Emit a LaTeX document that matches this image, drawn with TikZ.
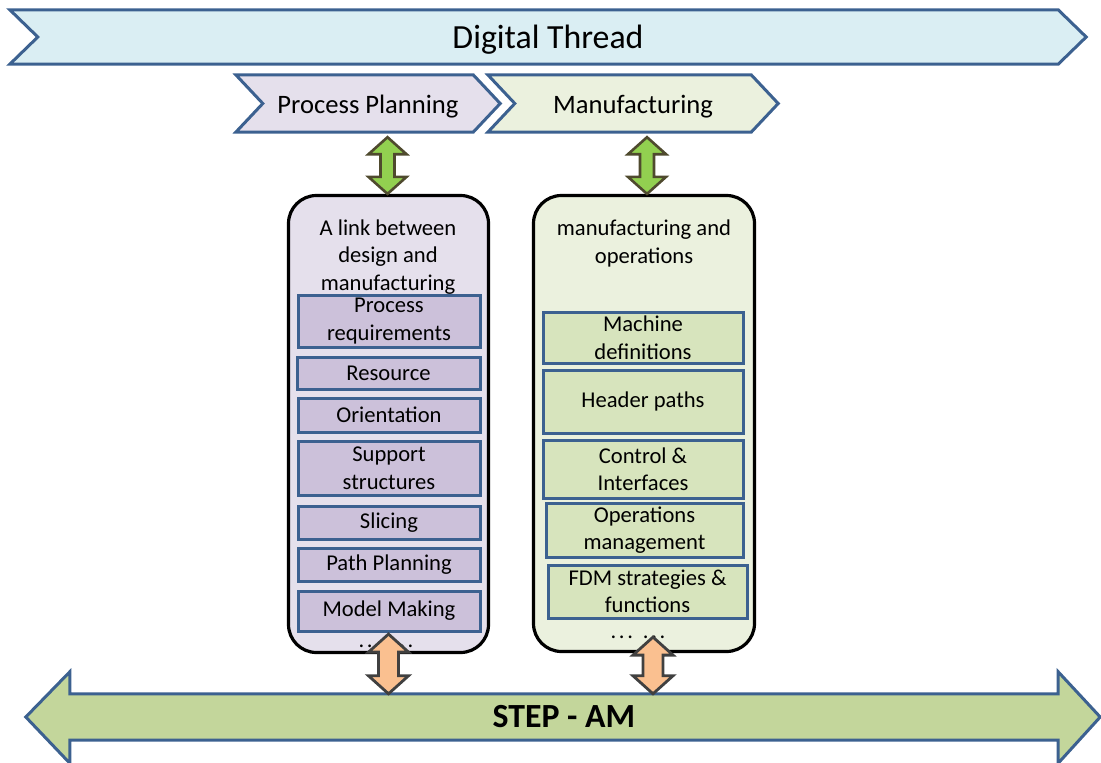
\documentclass[tikz,border=0pt]{standalone}
\usepackage{fontspec}
\setmainfont{Carlito}
\usetikzlibrary{calc,backgrounds}
\definecolor{edgeblue}{HTML}{3C6190}
\definecolor{dtfill}{HTML}{DAEEF3}
\definecolor{ppfill}{HTML}{E5E0EC}
\definecolor{ppinner}{HTML}{CCC1DA}
\definecolor{mffill}{HTML}{EBF1DE}
\definecolor{mfinner}{HTML}{D7E4BD}
\definecolor{greenarrow}{HTML}{92D050}
\definecolor{greenedge}{HTML}{4F4A2E}
\definecolor{orangearrow}{HTML}{FAC090}
\definecolor{orangeedge}{HTML}{404040}
\definecolor{stepfill}{HTML}{C3D69B}
\newcommand{\diagbody}{\fontsize{22.6}{27.5}\selectfont}
\newcommand{\diagchev}{\fontsize{26.6}{30}\selectfont}
\newcommand{\diagtitle}{\fontsize{33.8}{38}\selectfont}
\newcommand{\lowered}[1]{\raisebox{-3pt}[\height][\depth]{#1}}
\newcommand{\dotgroup}{.\kern2.6pt.\kern2.6pt.}
\newcommand{\moredots}{\dotgroup\hspace{10pt}\dotgroup}
% style, top, bottom, head half width, shaft half width, head length
\newcommand{\vdarrow}[6]{%
  \draw[#1] let \p1=(#2), \p2=(#3) in
    (\x1,\y1) -- (\x1+#4,\y1-#6) -- (\x1+#5,\y1-#6) -- (\x1+#5,\y2+#6)
    -- (\x1+#4,\y2+#6) -- (\x1,\y2) -- (\x1-#4,\y2+#6) -- (\x1-#5,\y2+#6)
    -- (\x1-#5,\y1-#6) -- (\x1-#4,\y1-#6) -- cycle;}
\newcommand{\chevron}[3]{% node, fill, tip depth
  \draw[chevline, fill=#2] (#1.north west) -- ($(#1.north east)+(-#3,0)$) -- (#1.east)
    -- ($(#1.south east)+(-#3,0)$) -- (#1.south west) -- ($(#1.west)+(#3,0)$) -- cycle;}
\tikzset{
  chevline/.style={draw=edgeblue, line width=3pt},
  chevlabel/.style={inner sep=0pt, draw=none},
  bigbox/.style={draw=black, line width=3.2pt, rounded corners=28pt, inner sep=0pt},
  innerbox/.style={draw=edgeblue, line width=3pt, inner sep=0pt, align=center, font=\diagbody},
  bodytext/.style={align=center, font=\diagbody, inner sep=0pt},
  greenarr/.style={fill=greenarrow, draw=greenedge, line width=2.6pt, line join=miter},
  orangearr/.style={fill=orangearrow, draw=orangeedge, line width=2.8pt, line join=miter}
}
\begin{document}
\begin{tikzpicture}[x=1pt, y=-1pt]
\useasboundingbox (0,0) rectangle (1101,763);

% chevron labels
\node[chevlabel, minimum width=1076pt, minimum height=54pt, font=\diagtitle] (dt) at (548,37) {\lowered{Digital Thread}};
\node[chevlabel, minimum width=264pt, minimum height=57pt, font=\diagchev] (pp) at (368,103.5) {\lowered{Process Planning}};
\node[chevlabel, minimum width=290pt, minimum height=57pt, font=\diagchev] (mf) at (633,103.5) {\lowered{Manufacturing}};

% bottom bar label
\node[chevlabel, minimum width=988pt, minimum height=46pt, font=\diagtitle\bfseries] (step) at (564,717) {STEP - AM};

\begin{pgfonlayer}{background}
  \chevron{dt}{dtfill}{28}
  \chevron{pp}{ppfill}{27}
  \chevron{mf}{mffill}{27}
  \draw[chevline, fill=stepfill] (step.north west) -- (step.north east) -- ($(step.north east)+(0,-22)$)
    -- ($(step.east)+(42,0)$) -- ($(step.south east)+(0,23)$) -- (step.south east)
    -- (step.south west) -- ($(step.south west)+(0,23)$) -- ($(step.west)+(-44,0)$)
    -- ($(step.north west)+(0,-22)$) -- cycle;
\end{pgfonlayer}

% big boxes
\node[bigbox, fill=ppfill, minimum width=200pt, minimum height=457pt] (lbox) at (388.5,424) {};
\node[bigbox, fill=mffill, minimum width=221pt, minimum height=456pt] (rbox) at (644,423.5) {};

% texts in big boxes
\node[bodytext] (ltxt) at (388,257) {A link between\\design and\\manufacturing};
\node[bodytext] (rtxt) at (644,243.5) {manufacturing and\\operations};

% left inner boxes
\node[innerbox, fill=ppinner, minimum width=182pt, minimum height=52pt] (preq) at (389,321) {Process\\requirements};
\node[innerbox, fill=ppinner, minimum width=183pt, minimum height=32pt] (res) at (388.5,373) {Resource};
\node[innerbox, fill=ppinner, minimum width=182pt, minimum height=34pt] (ori) at (389,415) {Orientation};
\node[innerbox, fill=ppinner, minimum width=182pt, minimum height=54pt] (sup) at (389,468) {Support\\structures};
\node[innerbox, fill=ppinner, minimum width=182pt, minimum height=33pt] (sli) at (389,522.5) {Slicing};
\node[innerbox, fill=ppinner, minimum width=182pt, minimum height=33pt] (pth) at (389,564.5) {Path Planning};
\node[innerbox, fill=ppinner, minimum width=182pt, minimum height=40pt] (mod) at (389,611) {Model Making};
\node[bodytext] (ldots) at (386,646) {\moredots};

% right inner boxes
\node[innerbox, fill=mfinner, minimum width=200pt, minimum height=51pt] (mach) at (643,337.5) {Machine\\definitions};
\node[innerbox, fill=mfinner, minimum width=200pt, minimum height=63pt] (head) at (643,401.5) {Header paths};
\node[innerbox, fill=mfinner, minimum width=200pt, minimum height=58pt] (ctrl) at (643,469) {Control \&\\Interfaces};
\node[innerbox, fill=mfinner, minimum width=197pt, minimum height=54pt] (ops) at (644.5,530) {Operations\\management};
\node[innerbox, fill=mfinner, minimum width=199pt, minimum height=53pt] (fdm) at (647.5,591.5) {FDM strategies \&\\functions};
\node[bodytext] (rdots) at (638,637) {\moredots};

% connectors
\coordinate (rgt) at ($(rbox.north)+(3,0)$);
\coordinate (rob) at ($(rbox.south)+(9,0)$);
\vdarrow{greenarr}{$(lbox.north |- pp.south)+(-1,5)$}{$(lbox.north)+(-1,0)$}{19pt}{7pt}{17pt}
\vdarrow{greenarr}{$(rgt |- mf.south)+(0,5)$}{rgt}{19pt}{7pt}{17pt}
\vdarrow{orangearr}{$(lbox.south)+(0,-20)$}{lbox.south |- step.north}{20pt}{10pt}{18pt}
\vdarrow{orangearr}{$(rob)+(0,-16)$}{rob |- step.north}{20pt}{10pt}{18pt}
\end{tikzpicture}
\end{document}
